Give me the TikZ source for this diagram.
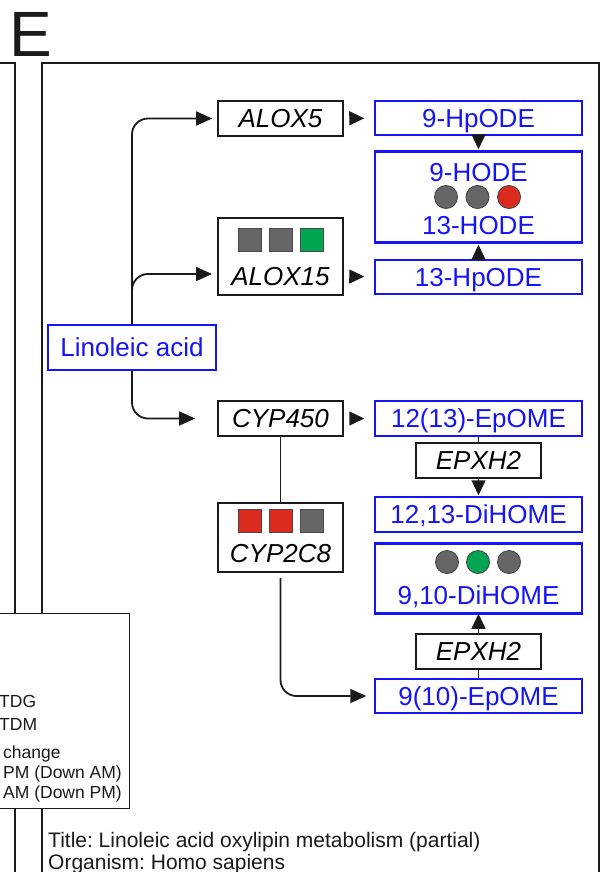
\documentclass[tikz,border=0pt]{standalone}
\usepackage{fontspec}
\setmainfont{Liberation Sans}
\usetikzlibrary{arrows.meta}
\definecolor{ink}{HTML}{1A1A1A}
\definecolor{metab}{HTML}{1414F5}
\definecolor{nochg}{HTML}{666666}
\definecolor{upchg}{HTML}{00A651}
\definecolor{dnchg}{HTML}{DC2B1E}

\begin{document}
\frenchspacing
\begin{tikzpicture}[x=1pt,y=-1pt,font=\fontsize{26}{30}\selectfont,
  label/.style={inner sep=0pt,text height=18.6pt,text depth=0pt},
  gene/.style={label,draw=ink,line width=1.6pt,minimum width=125pt,minimum height=35pt,font=\fontsize{26}{30}\selectfont\itshape},
  metab/.style={label,draw=metab,text=metab,line width=1.5pt,minimum width=207pt,minimum height=34pt},
  conn/.style={ink,line width=1.8pt,rounded corners=16pt,-{Triangle[length=16pt,width=14pt]}},
  headonly/.style={ink,line width=1.5pt,-{Triangle[length=15pt,width=14pt]}},
  chgbox/.style={draw=ink!80,line width=0.9pt},
  small/.style={text=ink,font=\fontsize{17.5}{20}\selectfont,anchor=base west,inner sep=0pt}]
  \useasboundingbox (0,0) rectangle (603,872);
  % panel frames
  \draw[ink,line width=1.5pt] (0,63) -| (15,880);
  \draw[ink,line width=1.5pt] (42,880) |- (599,63) -- (599,880);
  \node (plabel) [anchor=base west,inner sep=0pt,text=ink,font=\fontsize{64}{70}\selectfont] at (9,57) {E};
  % legend of the panel on the left
  \node (legend) [draw=ink,line width=1.2pt,fill=white,anchor=north east,minimum width=140pt,minimum height=195pt] at (130,613) {};
  \node (lg1) [small] at (-1,707) {TDG};
  \node (lg2) [small] at (-1,730) {TDM};
  \node (lg3) [small] at (3,758) {change};
  \node (lg4) [small] at (3,778) {PM (Down AM)};
  \node (lg5) [small] at (3,798) {AM (Down PM)};
  % genes
  \node (alox5) [gene] at (280.5,118.5) {ALOX5};
  \node (alox15) [gene,line width=2pt,minimum height=77pt] at (280.5,256.5) {};
  \node (alox15t) [label,font=\fontsize{26}{30}\selectfont\itshape] at (280.5,276) {ALOX15};
  \node (cyp450) [gene] at (280.5,418.5) {CYP450};
  \node (cyp2c8) [gene,line width=2pt,minimum height=69pt] at (280.5,537.5) {};
  \node (cyp2c8t) [label,font=\fontsize{26}{30}\selectfont\itshape] at (280.5,553) {CYP2C8};
  \foreach \x/\c [count=\i] in {249.5/nochg, 280.5/nochg, 311.5/upchg} {
    \fill[\c] (\x-11.5,228.5) rectangle (\x+11.5,251.5);
    \draw[chgbox] (\x-11.5,228.5) rectangle (\x+11.5,251.5);
  }
  \foreach \x/\c [count=\i] in {249.5/dnchg, 280.5/dnchg, 311.5/nochg} {
    \fill[\c] (\x-11.5,509.5) rectangle (\x+11.5,532.5);
    \draw[chgbox] (\x-11.5,509.5) rectangle (\x+11.5,532.5);
  }
  \node (epxh2a) [gene] at (478.5,460.5) {EPXH2};
  \node (epxh2b) [gene] at (478.5,651.5) {EPXH2};
  % metabolites
  \node (la) [metab,minimum width=168pt,minimum height=45pt] at (132,347.5) {Linoleic acid};
  \node (hpode9) [metab] at (478.5,118) {9-HpODE};
  \node (hode) [metab,minimum height=90pt] at (478.5,197) {};
  \node (hode9) [label,text=metab] at (478.5,172) {9-HODE};
  \node (hode13) [label,text=metab] at (478.5,225) {13-HODE};
  \node (hpode13) [metab] at (478.5,277) {13-HpODE};
  \node (epome12) [metab,minimum height=35pt] at (478.5,418.5) {12(13)-EpOME};
  \node (dihome12) [metab,minimum height=35pt] at (478.5,514.5) {12,13-DiHOME};
  \node (dihome9) [metab,minimum height=69pt] at (478.5,578.5) {};
  \node (dihome9t) [label,text=metab] at (478.5,595) {9,10-DiHOME};
  \node (epome9) [metab] at (478.5,696) {9(10)-EpOME};
  \draw[metab,line width=3.2pt] (hode.north west) -- (hode.north east) (hode.south west) -- (hode.south east);
  \draw[metab,line width=3.2pt] (dihome9.north west) -- (dihome9.north east) (dihome9.south west) -- (dihome9.south east);
  \foreach \x/\c in {446/nochg, 477.5/nochg, 509/dnchg} {
    \filldraw[fill=\c,draw=ink!80,line width=0.9pt] (\x,197) circle (11.5);
  }
  \foreach \x/\c in {447/nochg, 478/upchg, 509/nochg} {
    \filldraw[fill=\c,draw=ink!80,line width=0.9pt] (\x,562) circle (11.5);
  }
  % reactions
  \draw[conn,shorten >=5pt] (la.north) |- (alox5.west);
  \draw[conn,shorten >=5pt] (la.north) |- ([yshift=22pt]alox15.south west);
  \draw[conn,shorten >=22pt] (la.south) |- (cyp450.west);
  \draw[conn,shorten <=5pt,shorten >=8pt] (cyp2c8.south) |- (epome9.west);
  \draw[ink,line width=1.6pt] (cyp450) -- (cyp2c8);
  \draw[headonly,shorten <=7pt,shorten >=10pt] (alox5) -- (hpode9);
  \draw[headonly,shorten <=7pt,shorten >=10pt] ([yshift=-20pt]alox15.east) -- (hpode13);
  \draw[headonly,shorten <=7pt,shorten >=10pt] (cyp450) -- (epome12);
  \draw[headonly,shorten <=1pt,shorten >=2pt] (hpode9) -- (hode);
  \draw[headonly,shorten <=2pt,shorten >=2pt] (hpode13) -- (hode);
  \draw[ink,line width=1.6pt] (epome12) -- (epxh2a);
  \draw[headonly,shorten >=1pt] (epxh2a) -- (dihome12);
  \draw[ink,line width=1.6pt] (epome9) -- (epxh2b);
  \draw[headonly] (epxh2b) -- (dihome9);
  % title
  \node (title) [small,font=\fontsize{21}{24}\selectfont] at (48,847) {Title: Linoleic acid oxylipin metabolism (partial)};
  \node (organism) [small,font=\fontsize{21}{24}\selectfont] at (48,869) {Organism: Homo sapiens};
\end{tikzpicture}
\end{document}
